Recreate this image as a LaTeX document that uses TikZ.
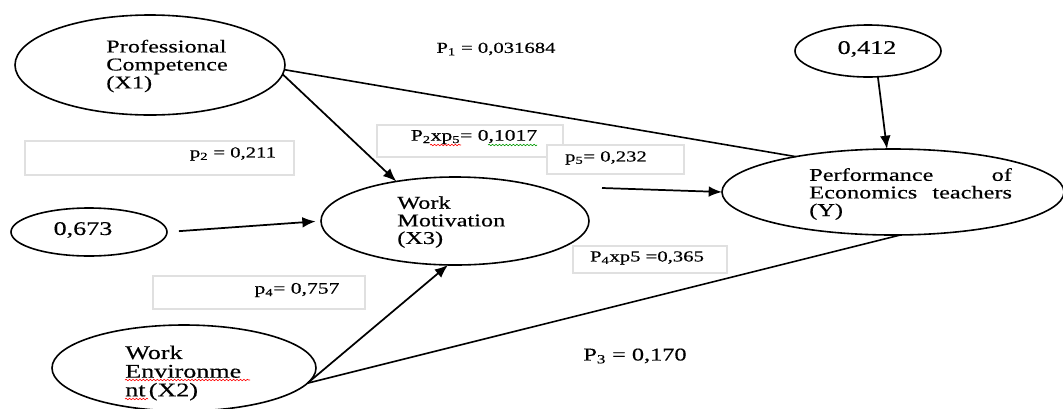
\documentclass[tikz,border=0pt]{standalone}
\usepackage{fontspec}
\setmainfont{Liberation Serif}[FakeStretch=1.35,FakeBold=0.4]
\usetikzlibrary{shapes.geometric,arrows.meta,decorations.pathmorphing}
\begin{document}
\begin{tikzpicture}[x=0.75pt,y=-0.75pt,
  ell/.style={draw, ellipse, line width=1.2pt, inner sep=0pt, outer sep=0pt},
  box/.style={draw=black!12, line width=0.9pt, fill=white, inner sep=0pt, outer sep=0pt},
  lbl/.style={inner sep=0pt, font=\fontsize{11.5}{13}\selectfont},
  etxt/.style={inner sep=0pt, anchor=west, align=left},
  arr/.style={line width=1.3pt, -{Latex[length=10pt,width=8pt]}},
  ln/.style={line width=1.2pt},
  sq/.style={decorate, decoration={snake, amplitude=0.55pt, segment length=2.6pt}, line width=0.45pt}]
\useasboundingbox (0,0) rectangle (1063,408);
\fill[white] (0,0) rectangle (1063,408);

% ellipses
\node[ell, minimum width=202.5pt, minimum height=75pt] (X1) at (150,65) {};
\node[ell, minimum width=109.5pt, minimum height=39pt] (E3) at (868,51) {};
\node[ell, minimum width=256.5pt, minimum height=64.5pt] (Y) at (893,192) {};
\node[ell, minimum width=117pt, minimum height=36pt] (E1) at (89,232) {};
\node[ell, minimum width=201pt, minimum height=66pt] (X3) at (455,221) {};
\node[ell, minimum width=198pt, minimum height=64.5pt] (X2) at (184,368) {};

% ellipse texts
\node[etxt, font=\fontsize{13.5}{13.5}\selectfont] (tX1) at (106,66) {Professional\\Competence\\(X1)};
\node[inner sep=0pt, font=\fontsize{14.5}{15}\selectfont] (tE3) at (867,49) {0,412};
\node[etxt, font=\fontsize{13.5}{13.2}\selectfont] (tY) at (809,194) {\hbox to 152pt{Performance\hfill of}\\\hbox to 152pt{Economics\hfill teachers}\\(Y)};
\node[inner sep=0pt, font=\fontsize{14.5}{15}\selectfont] (tE1) at (83,230) {0,673};
\node[etxt, font=\fontsize{13.5}{13.2}\selectfont] (tX3) at (397,222) {Work\\Motivation\\(X3)};
\node[etxt, font=\fontsize{14.5}{14}\selectfont] (tX2) at (125,373) {Work\\Environme\\nt\,(X2)};

% connectors
\coordinate (m5) at (602,188);
\draw[ln] (X1.-2) -- (Y.160);
\draw[arr] (X1.-4) -- (X3.146);
\draw[arr] (E3.-69) -- (Y.98);
\draw[arr, shorten <=9pt, shorten >=4pt] (E1.east) -- (X3.west);
\draw[arr] (m5) -- (Y.west);
\draw[arr] (X2.-7) -- (X3.-99);
\draw[ln] (X2.-7) -- (Y.-80);

% boxes
\node[box, minimum width=201.75pt, minimum height=25.5pt] (b2) at (159.5,158) {};
\node[box, minimum width=159pt, minimum height=24.75pt] (b4) at (259,292.5) {};
\node[box, minimum width=139.5pt, minimum height=24pt] (b25) at (470,141) {};
\node[box, minimum width=102.75pt, minimum height=21.75pt] (b5) at (615.5,159.5) {};
\node[box, minimum width=115.5pt, minimum height=20.25pt] (b45) at (650,259.5) {};

% labels
\node[lbl] (l1) at (496,49) {P\textsubscript{1} = 0,031684};
\node[lbl] (l2) at (233,154) {p\textsubscript{2} = 0,211};
\node[lbl, font=\fontsize{12}{13}\selectfont] (l25) at (474,137) {P\textsubscript{2}xp\textsubscript{5}= 0,1017};
\node[lbl] (l5) at (606,158) {p\textsubscript{5}= 0,232};
\node[lbl] (l45) at (647,258) {P\textsubscript{4}xp5 =0,365};
\node[lbl, font=\fontsize{12}{13}\selectfont] (l4) at (297,290) {p\textsubscript{4}= 0,757};
\node[lbl, font=\fontsize{13.5}{14}\selectfont] (l3) at (635,356) {P\textsubscript{3} = 0,170};

% spell-check marks
\draw[sq, red] (430,145) -- (461,145);
\draw[sq, green!60!black] (488,145) -- (537,145);
\draw[sq, red] (125,380) -- (250,380);
\draw[sq, red] (125,399) -- (148,399);
\end{tikzpicture}
\end{document}
